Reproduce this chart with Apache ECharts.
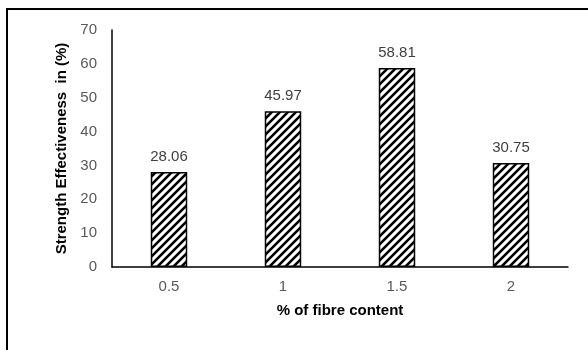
<!DOCTYPE html>
<html>
<head>
<meta charset="utf-8">
<script src="https://cdn.jsdelivr.net/npm/echarts@6/dist/echarts.min.js"></script>
<style>
  html, body { margin: 0; padding: 0; background: #fff; }
  #main { width: 588px; height: 350px; }
</style>
</head>
<body>
<div id="main"></div>
<script>
const categories = ['0.5', '1', '1.5', '2']
const effectiveness = [28.06, 45.97, 58.81, 30.75]
const yTicks = [0, 10, 20, 30, 40, 50, 60, 70]

// hatch pattern for bars (diagonal lines like the excel fill)
function makeHatch() {
  const c = document.createElement('canvas')
  const s = 8
  c.width = s
  c.height = s
  const ctx = c.getContext('2d')
  ctx.fillStyle = '#fff'
  ctx.fillRect(0, 0, s, s)
  ctx.strokeStyle = '#000'
  ctx.lineWidth = 2.6
  ctx.beginPath()
  ctx.moveTo(-1, s + 1); ctx.lineTo(s + 1, -1)
  ctx.moveTo(-2, 2); ctx.lineTo(2, -2)
  ctx.moveTo(s - 2, s + 2); ctx.lineTo(s + 2, s - 2)
  ctx.stroke()
  return c
}

const chart = echarts.init(document.getElementById('main'), null, { renderer: 'canvas' })
const font = '"Liberation Sans", Arial, sans-serif'

const option = {
  animation: false,
  backgroundColor: '#fff',
  grid: { left: 112, right: 20, top: 30, bottom: 83 },
  graphic: [{
    type: 'rect',
    shape: { x: 7, y: 9, width: 620, height: 400 },
    style: { fill: 'none', stroke: '#000', lineWidth: 2 },
    silent: true
  }],
  xAxis: {
    type: 'category',
    data: categories,
    name: '% of fibre content',
    nameLocation: 'middle',
    nameGap: 36,
    nameTextStyle: { fontFamily: font, fontSize: 15, fontWeight: 'bold', color: '#000' },
    axisLine: { lineStyle: { color: '#000', width: 1.5 } },
    axisTick: { show: false },
    axisLabel: { fontFamily: font, fontSize: 15, color: '#595959', margin: 12 }
  },
  yAxis: {
    type: 'value',
    min: yTicks[0],
    max: yTicks[yTicks.length - 1],
    interval: 10,
    name: 'Strength Effectiveness  in (%)',
    nameLocation: 'middle',
    nameGap: 39,
    nameTextStyle: { fontFamily: font, fontSize: 15, fontWeight: 'bold', color: '#000' },
    axisLine: { show: true, lineStyle: { color: '#000', width: 1.5 } },
    axisTick: { show: false },
    splitLine: { show: false },
    axisLabel: { fontFamily: font, fontSize: 15, color: '#595959', margin: 15 }
  },
  series: [{
    type: 'bar',
    data: effectiveness,
    barWidth: '32%',
    itemStyle: {
      color: { image: makeHatch(), repeat: 'repeat' },
      borderColor: '#000',
      borderWidth: 1.5
    },
    label: {
      show: true,
      position: 'top',
      distance: 8,
      fontFamily: font,
      fontSize: 15,
      color: '#404040',
      formatter: p => p.value.toFixed(2)
    }
  }]
}
chart.setOption(option)
</script>
</body>
</html>
